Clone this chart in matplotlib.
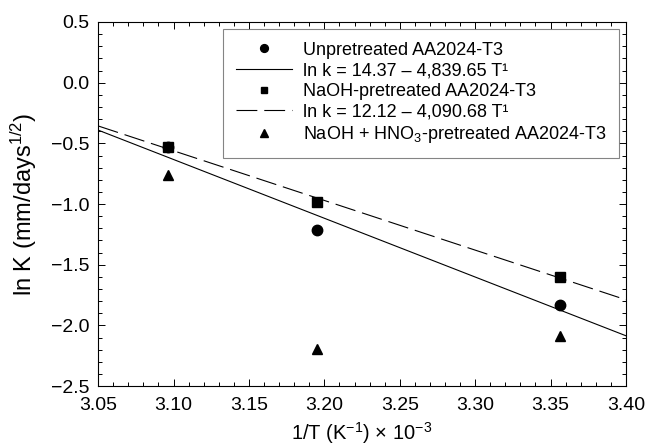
import matplotlib
matplotlib.use("Agg")
import matplotlib.pyplot as plt
import numpy as np

plt.rcParams['font.family'] = ['Liberation Sans', 'DejaVu Sans']
plt.rcParams['mathtext.fontset'] = 'custom'
plt.rcParams['mathtext.rm'] = 'Liberation Sans'
plt.rcParams['mathtext.it'] = 'Liberation Sans:italic'
plt.rcParams['lines.scale_dashes'] = False

# Data
x_temp = [3.096, 3.195, 3.356]
unpretreated = [-0.53, -1.21, -1.83]
naoh = [-0.53, -0.98, -1.60]
naoh_hno3 = [-0.76, -2.19, -2.09]

fit1 = (14.37, 4839.65)
fit2 = (12.12, 4090.68)
x_fit = [3.05, 3.40]

x_ticks = [3.05, 3.10, 3.15, 3.20, 3.25, 3.30, 3.35, 3.40]
y_ticks = [-2.5, -2.0, -1.5, -1.0, -0.5, 0.0, 0.5]

labels = ["Unpretreated AA2024-T3",
          "ln k = 14.37 \u2013 4,839.65 T\u00b9",
          "NaOH-pretreated AA2024-T3",
          "ln k = 12.12 \u2013 4,090.68 T\u00b9",
          "NaOH + HNO$_3$-pretreated AA2024-T3"]

fig = plt.figure(figsize=(6.5, 4.48), dpi=100)
ax = fig.add_axes([0.151, 0.138, 0.812, 0.813])

xf = np.array(x_fit)
ax.plot(x_temp, unpretreated, 'o', color='black', ms=7.5, label=labels[0], zorder=3)
ax.plot(xf, fit1[0] - fit1[1] * xf / 1000, '-', color='black', lw=0.8, label=labels[1])
ax.plot(x_temp, naoh, 's', color='black', ms=6.5, label=labels[2], zorder=3)
ax.plot(xf, fit2[0] - fit2[1] * xf / 1000, color='black', lw=0.8, dashes=(15, 5), label=labels[3])
ax.plot(x_temp, naoh_hno3, '^', color='black', ms=7.5, label=labels[4], zorder=3)

ax.set_xlim(3.05, 3.40)
ax.set_ylim(-2.5, 0.5)
ax.set_xticks(x_ticks)
ax.set_xticklabels([f"{v:.2f}" for v in x_ticks])
ax.set_yticks(y_ticks)
ax.set_yticklabels([f"{v:.1f}".replace('-', '\u2212') for v in y_ticks])
ax.set_xticks(np.arange(3.05, 3.401, 0.01), minor=True)
ax.set_yticks(np.arange(-2.5, 0.51, 0.1), minor=True)
ax.tick_params(which='both', direction='in', top=True, right=True, labelsize=14, width=0.7)
ax.tick_params(which='major', length=5)
ax.tick_params(which='minor', length=3)
ax.tick_params(axis='y', pad=6)
ax.tick_params(axis='x', pad=8)
for s in ax.spines.values():
    s.set_linewidth(0.8)

ax.set_xlabel("1/T (K$^{\u22121}$) \u00d7 10$^{\u22123}$", fontsize=14.5, labelpad=4)
ax.set_ylabel("ln K (mm/days$^{1/2}$)", fontsize=17, labelpad=9)

leg = ax.legend(loc='upper right', fontsize=13, frameon=True, fancybox=False,
                edgecolor='#666666', handlelength=3.1, borderpad=0.7,
                labelspacing=0.2, handletextpad=0.6, borderaxespad=0.4,
                markerscale=0.75)
leg.get_frame().set_linewidth(0.8)

fig.savefig("out.png", dpi=100)
